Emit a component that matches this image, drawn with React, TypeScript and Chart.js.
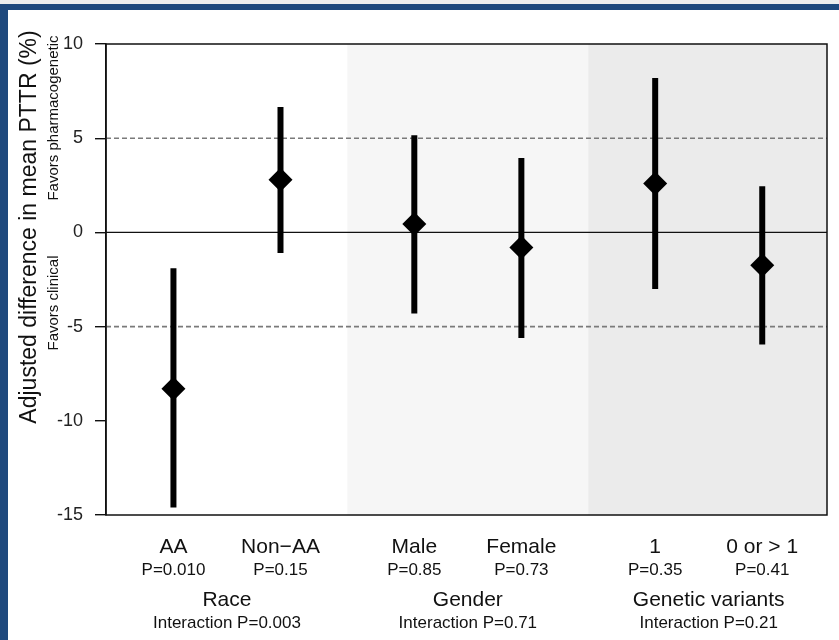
import React, { useEffect, useRef } from "react";
import { Chart, registerables } from "chart.js";

Chart.register(...registerables);

const categories = ["AA", "Non\u2212AA", "Male", "Female", "1", "0 or > 1"];
const pLabels = ["P=0.010", "P=0.15", "P=0.85", "P=0.73", "P=0.35", "P=0.41"];
const groupOf = [0, 0, 1, 1, 2, 2];
const groupNames = ["Race", "Gender", "Genetic variants"];
const interactionLabels = ["Interaction P=0.003", "Interaction P=0.71", "Interaction P=0.21"];
const estimates = [-8.3, 2.8, 0.45, -0.8, 2.6, -1.75];
const lower = [-14.6, -1.1, -4.3, -5.6, -3.0, -5.95];
const upper = [-1.9, 6.65, 5.15, 3.95, 8.2, 2.45];
const yTicks = [-15, -10, -5, 0, 5, 10];
const refDashed = [5, -5];
const refSolid = [0];

const GROUP_GAP = 0.25;
const FONT = "'Liberation Sans', Arial, Helvetica, sans-serif";

export default function App() {
  const ref = useRef<HTMLCanvasElement | null>(null);

  useEffect(() => {
    const canvas = ref.current;
    if (!canvas) return;
    const xPos = categories.map((_, i) => i + groupOf[i] * GROUP_GAP);

    const deco = {
      id: "deco",
      beforeDatasetsDraw(chart: any) {
        const { ctx, chartArea: a, scales } = chart;
        const xs = scales.x, ys = scales.y;
        ctx.save();
        const b1 = xs.getPixelForValue((xPos[1] + xPos[2]) / 2);
        const b2 = xs.getPixelForValue((xPos[3] + xPos[4]) / 2);
        ctx.fillStyle = "#f6f6f6";
        ctx.fillRect(b1, a.top, b2 - b1, a.bottom - a.top);
        ctx.fillStyle = "#ebebeb";
        ctx.fillRect(b2, a.top, a.right - b2, a.bottom - a.top);
        ctx.strokeStyle = "#7a7a7a";
        ctx.lineWidth = 1.6;
        ctx.setLineDash([5, 3]);
        refDashed.forEach((v) => {
          const y = ys.getPixelForValue(v);
          ctx.beginPath();
          ctx.moveTo(a.left, y);
          ctx.lineTo(a.right, y);
          ctx.stroke();
        });
        ctx.setLineDash([]);
        ctx.strokeStyle = "#111";
        ctx.lineWidth = 1.2;
        refSolid.forEach((v) => {
          const y = ys.getPixelForValue(v);
          ctx.beginPath();
          ctx.moveTo(a.left, y);
          ctx.lineTo(a.right, y);
          ctx.stroke();
        });
        ctx.strokeStyle = "#000";
        ctx.lineWidth = 6;
        ctx.lineCap = "butt";
        xPos.forEach((xv, i) => {
          const x = xs.getPixelForValue(xv);
          ctx.beginPath();
          ctx.moveTo(x, ys.getPixelForValue(lower[i]));
          ctx.lineTo(x, ys.getPixelForValue(upper[i]));
          ctx.stroke();
        });
        ctx.restore();
      },
      afterDraw(chart: any) {
        const { ctx, chartArea: a, scales } = chart;
        const xs = scales.x;
        ctx.save();
        ctx.strokeStyle = "#111";
        ctx.lineWidth = 1.5;
        ctx.strokeRect(a.left, a.top, a.right - a.left, a.bottom - a.top);
        ctx.fillStyle = "#111";
        ctx.textAlign = "center";
        ctx.textBaseline = "alphabetic";
        xPos.forEach((xv, i) => {
          const x = xs.getPixelForValue(xv);
          ctx.font = `21px ${FONT}`;
          ctx.fillText(categories[i], x, 553);
          ctx.font = `17px ${FONT}`;
          ctx.fillText(pLabels[i], x, 575);
        });
        groupNames.forEach((g, gi) => {
          const idx = groupOf.map((v, i) => (v === gi ? i : -1)).filter((i) => i >= 0);
          const mid = idx.reduce((s, i) => s + xPos[i], 0) / idx.length;
          const x = xs.getPixelForValue(mid);
          ctx.font = `21px ${FONT}`;
          ctx.fillText(g, x, 606);
          ctx.font = `17px ${FONT}`;
          ctx.fillText(interactionLabels[gi], x, 628);
        });
        ctx.textBaseline = "middle";
        ctx.save();
        ctx.translate(30, 227);
        ctx.rotate(-Math.PI / 2);
        ctx.font = `23px ${FONT}`;
        ctx.fillText("Adjusted difference in mean PTTR (%)", 0, 0);
        ctx.restore();
        ctx.save();
        ctx.translate(54, 118);
        ctx.rotate(-Math.PI / 2);
        ctx.font = `15px ${FONT}`;
        ctx.fillText("Favors pharmacogenetic", 0, 0);
        ctx.restore();
        ctx.save();
        ctx.translate(54, 303);
        ctx.rotate(-Math.PI / 2);
        ctx.font = `15px ${FONT}`;
        ctx.fillText("Favors clinical", 0, 0);
        ctx.restore();
        ctx.restore();
      },
    };

    const chart = new Chart(canvas, {
      type: "scatter",
      data: {
        datasets: [
          {
            data: xPos.map((x, i) => ({ x, y: estimates[i] })),
            pointStyle: "rectRot",
            pointRadius: 12,
            pointHoverRadius: 12,
            backgroundColor: "#000",
            borderColor: "#000",
            borderWidth: 0,
          },
        ],
      },
      options: {
        responsive: false,
        animation: false,
        events: [],
        layout: { padding: { left: 8, right: 11, top: 44, bottom: 125 } },
        plugins: { legend: { display: false }, tooltip: { enabled: false } },
        scales: {
          x: { type: "linear", min: -0.63, max: 6.105, display: false },
          y: {
            min: -15,
            max: 10,
            afterFit(scale: any) {
              scale.width = 98;
            },
            afterBuildTicks(scale: any) {
              scale.ticks = yTicks.map((v) => ({ value: v }));
            },
            ticks: {
              padding: 12,
              color: "#222",
              font: { family: FONT, size: 18 },
              callback: (v: any) => String(v),
            },
            grid: {
              drawOnChartArea: false,
              drawTicks: true,
              tickLength: 11,
              color: "#111",
              lineWidth: 1.4,
            },
            border: { display: true, color: "#111", width: 1.5 },
          },
        },
      },
      plugins: [deco],
    });
    return () => chart.destroy();
  }, []);

  return (
    <div style={{ position: "fixed", left: 0, top: 0, width: 839, height: 640, background: "#fff", overflow: "hidden" }}>
      <canvas ref={ref} width={839} height={640} style={{ position: "absolute", left: 0, top: 0 }} />
      <div style={{ position: "absolute", left: 0, top: 0, width: 839, height: 4, background: "#eeeeee" }} />
      <div style={{ position: "absolute", left: 0, top: 4, width: 839, height: 6, background: "#1f497d" }} />
      <div style={{ position: "absolute", left: 0, top: 4, width: 8, height: 636, background: "#1f497d" }} />
    </div>
  );
}
